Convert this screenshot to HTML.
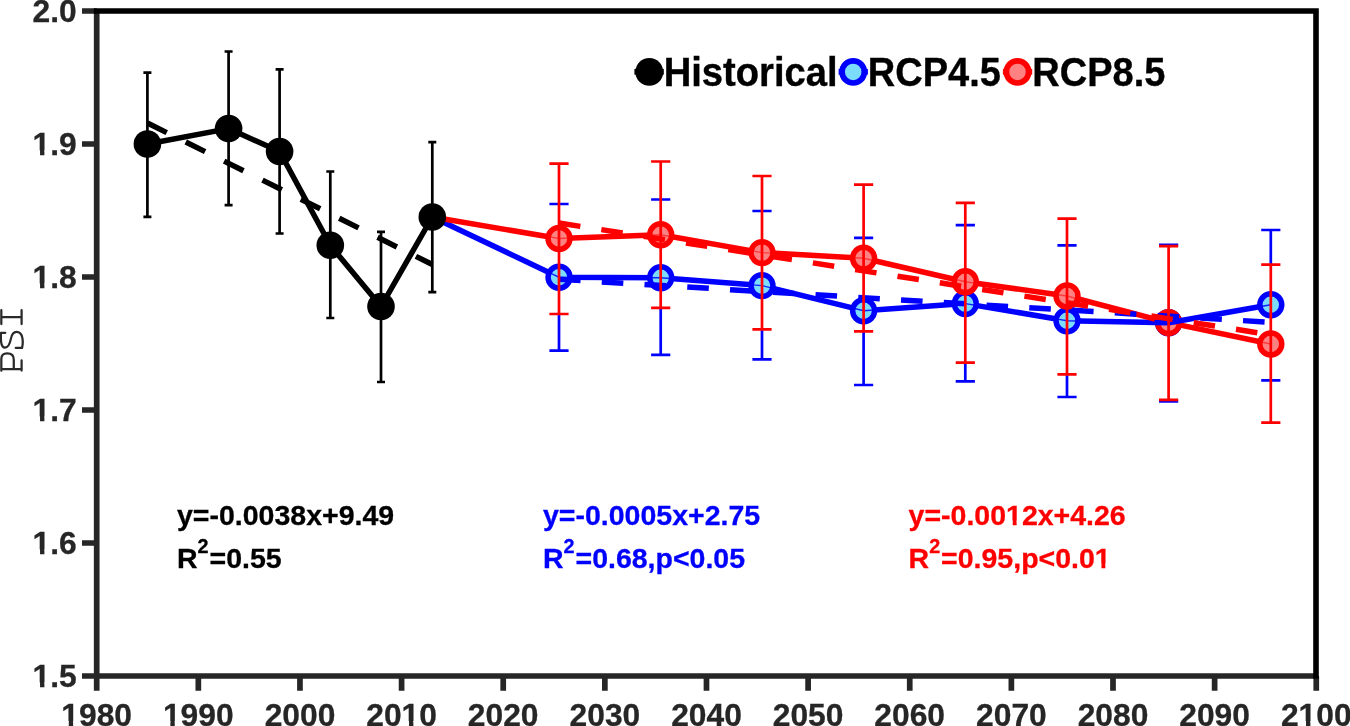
<!DOCTYPE html>
<html><head><meta charset="utf-8"><title>PSI</title>
<style>
html,body{margin:0;padding:0;background:#fff;}
body{width:1350px;height:726px;overflow:hidden;}
svg{display:block;will-change:transform;}
text{font-family:"Liberation Sans",sans-serif;font-weight:bold;}
.mono{font-family:"Liberation Mono",monospace;font-weight:normal;}
</style></head><body>
<svg width="1350" height="726" viewBox="0 0 1350 726">
<rect width="1350" height="726" fill="#fff"/>
<g id="hist">
<path d="M147.4 72.7V216.8M143.4 72.7H151.4M143.4 216.8H151.4" stroke="#000" stroke-width="2.7" fill="none"/>
<path d="M228.6 51.5V205.2M224.6 51.5H232.6M224.6 205.2H232.6" stroke="#000" stroke-width="2.7" fill="none"/>
<path d="M279.6 69.4V233.5M275.6 69.4H283.6M275.6 233.5H283.6" stroke="#000" stroke-width="2.7" fill="none"/>
<path d="M330.3 171.5V318.0M326.3 171.5H334.3M326.3 318.0H334.3" stroke="#000" stroke-width="2.7" fill="none"/>
<path d="M381.0 231.8V382.0M377.0 231.8H385.0M377.0 382.0H385.0" stroke="#000" stroke-width="2.7" fill="none"/>
<path d="M432.3 142.2V292.1M428.3 142.2H436.3M428.3 292.1H436.3" stroke="#000" stroke-width="2.7" fill="none"/>
<polyline points="147.4,144.0 228.6,128.6 279.6,151.5 330.3,245.3 381.0,306.5 432.3,217.0" fill="none" stroke="#000" stroke-width="5.5" stroke-linejoin="round"/>
</g>
<g id="blue">
<path d="M559.0 314.0V350.7M549.4 204.0H568.6M549.4 350.7H568.6" stroke="#0000ff" stroke-width="2.7" fill="none"/>
<path d="M660.7 307.8V354.9M651.1 199.5H670.3M651.1 354.9H670.3" stroke="#0000ff" stroke-width="2.7" fill="none"/>
<path d="M762.0 329.3V359.4M752.4 211.0H771.6M752.4 359.4H771.6" stroke="#0000ff" stroke-width="2.7" fill="none"/>
<path d="M863.6 331.3V385.0M854.0 237.9H873.2M854.0 385.0H873.2" stroke="#0000ff" stroke-width="2.7" fill="none"/>
<path d="M965.3 362.7V381.3M955.7 225.1H974.9M955.7 381.3H974.9" stroke="#0000ff" stroke-width="2.7" fill="none"/>
<path d="M1067.0 374.3V397.0M1057.4 245.4H1076.6M1057.4 397.0H1076.6" stroke="#0000ff" stroke-width="2.7" fill="none"/>
<path d="M1168.6 244.9V246.1M1168.6 399.8V401.5M1159.0 244.9H1178.2M1159.0 401.5H1178.2" stroke="#0000ff" stroke-width="2.7" fill="none"/>
<path d="M1270.8 230.0V264.7M1261.2 230.0H1280.4M1261.2 380.4H1280.4" stroke="#0000ff" stroke-width="2.7" fill="none"/>
<polyline points="432.3,217.0 559.0,277.2 660.7,277.7 762.0,285.6 863.6,310.7 965.3,303.6 1067.0,320.7 1168.6,322.7 1270.8,304.8" fill="none" stroke="#0000ff" stroke-width="5.5" stroke-linejoin="round"/>
<clipPath id="cb"><circle cx="559.0" cy="277.2" r="10.95"/><circle cx="660.7" cy="277.7" r="10.95"/><circle cx="762.0" cy="285.6" r="10.95"/><circle cx="863.6" cy="310.7" r="10.95"/><circle cx="965.3" cy="303.6" r="10.95"/><circle cx="1067.0" cy="320.7" r="10.95"/><circle cx="1168.6" cy="322.7" r="10.95"/><circle cx="1270.8" cy="304.8" r="10.95"/></clipPath>
<circle cx="559.0" cy="277.2" r="10.95" fill="#7cdcfd"/>
<circle cx="660.7" cy="277.7" r="10.95" fill="#7cdcfd"/>
<circle cx="762.0" cy="285.6" r="10.95" fill="#7cdcfd"/>
<circle cx="863.6" cy="310.7" r="10.95" fill="#7cdcfd"/>
<circle cx="965.3" cy="303.6" r="10.95" fill="#7cdcfd"/>
<circle cx="1067.0" cy="320.7" r="10.95" fill="#7cdcfd"/>
<circle cx="1168.6" cy="322.7" r="10.95" fill="#7cdcfd"/>
<circle cx="1270.8" cy="304.8" r="10.95" fill="#7cdcfd"/>
<polyline clip-path="url(#cb)" points="432.3,217.0 559.0,277.2 660.7,277.7 762.0,285.6 863.6,310.7 965.3,303.6 1067.0,320.7 1168.6,322.7 1270.8,304.8" fill="none" stroke="#0000ff" stroke-opacity="0.85" stroke-width="1.4"/>
<circle cx="559.0" cy="277.2" r="10.95" fill="none" stroke="#0000ff" stroke-width="5.5"/>
<circle cx="660.7" cy="277.7" r="10.95" fill="none" stroke="#0000ff" stroke-width="5.5"/>
<circle cx="762.0" cy="285.6" r="10.95" fill="none" stroke="#0000ff" stroke-width="5.5"/>
<circle cx="863.6" cy="310.7" r="10.95" fill="none" stroke="#0000ff" stroke-width="5.5"/>
<circle cx="965.3" cy="303.6" r="10.95" fill="none" stroke="#0000ff" stroke-width="5.5"/>
<circle cx="1067.0" cy="320.7" r="10.95" fill="none" stroke="#0000ff" stroke-width="5.5"/>
<circle cx="1168.6" cy="322.7" r="10.95" fill="none" stroke="#0000ff" stroke-width="5.5"/>
<circle cx="1270.8" cy="304.8" r="10.95" fill="none" stroke="#0000ff" stroke-width="5.5"/>
</g>
<g id="red">
<polyline points="432.3,217.0 559.0,238.5 660.7,234.7 762.0,252.6 863.6,258.2 965.3,281.7 1067.0,296.0 1168.6,322.6 1270.8,344.0" fill="none" stroke="#ff0000" stroke-width="5.5" stroke-linejoin="round"/>
<clipPath id="cr"><circle cx="559.0" cy="238.5" r="10.95"/><circle cx="660.7" cy="234.7" r="10.95"/><circle cx="762.0" cy="252.6" r="10.95"/><circle cx="863.6" cy="258.2" r="10.95"/><circle cx="965.3" cy="281.7" r="10.95"/><circle cx="1067.0" cy="296.0" r="10.95"/><circle cx="1168.6" cy="322.6" r="10.95"/><circle cx="1270.8" cy="344.0" r="10.95"/></clipPath>
<circle cx="559.0" cy="238.5" r="10.95" fill="#ff8282"/>
<circle cx="660.7" cy="234.7" r="10.95" fill="#ff8282"/>
<circle cx="762.0" cy="252.6" r="10.95" fill="#ff8282"/>
<circle cx="863.6" cy="258.2" r="10.95" fill="#ff8282"/>
<circle cx="965.3" cy="281.7" r="10.95" fill="#ff8282"/>
<circle cx="1067.0" cy="296.0" r="10.95" fill="#ff8282"/>
<circle cx="1168.6" cy="322.6" r="10.95" fill="#ff8282"/>
<circle cx="1270.8" cy="344.0" r="10.95" fill="#ff8282"/>
<polyline clip-path="url(#cr)" points="432.3,217.0 559.0,238.5 660.7,234.7 762.0,252.6 863.6,258.2 965.3,281.7 1067.0,296.0 1168.6,322.6 1270.8,344.0" fill="none" stroke="#ff0000" stroke-opacity="0.55" stroke-width="1.4"/>
<circle cx="559.0" cy="238.5" r="10.95" fill="none" stroke="#ff0000" stroke-width="5.5"/>
<circle cx="660.7" cy="234.7" r="10.95" fill="none" stroke="#ff0000" stroke-width="5.5"/>
<circle cx="762.0" cy="252.6" r="10.95" fill="none" stroke="#ff0000" stroke-width="5.5"/>
<circle cx="863.6" cy="258.2" r="10.95" fill="none" stroke="#ff0000" stroke-width="5.5"/>
<circle cx="965.3" cy="281.7" r="10.95" fill="none" stroke="#ff0000" stroke-width="5.5"/>
<circle cx="1067.0" cy="296.0" r="10.95" fill="none" stroke="#ff0000" stroke-width="5.5"/>
<circle cx="1168.6" cy="322.6" r="10.95" fill="none" stroke="#ff0000" stroke-width="5.5"/>
<circle cx="1270.8" cy="344.0" r="10.95" fill="none" stroke="#ff0000" stroke-width="5.5"/>
<clipPath id="c85"><circle cx="1168.6" cy="322.6" r="14.2"/></clipPath>
<polyline clip-path="url(#c85)" points="1067.0,320.7 1168.6,322.7 1270.8,304.8" fill="none" stroke="#0000ff" stroke-width="5.5" stroke-linejoin="round"/>
<line x1="559" y1="279.3" x2="1270.8" y2="322.3" stroke="#0000ff" stroke-width="5.5" stroke-dasharray="21.6 21.23"/>
<line x1="559" y1="223" x2="1270.8" y2="334.8" stroke="#ff0000" stroke-width="5.5" stroke-dasharray="21.6 21.23"/>
<path d="M559.0 163.6V314.0M549.4 163.6H568.6M549.4 314.0H568.6" stroke="#ff0000" stroke-width="2.7" fill="none"/>
<path d="M660.7 161.5V307.8M651.1 161.5H670.3M651.1 307.8H670.3" stroke="#ff0000" stroke-width="2.7" fill="none"/>
<path d="M762.0 176.0V329.3M752.4 176.0H771.6M752.4 329.3H771.6" stroke="#ff0000" stroke-width="2.7" fill="none"/>
<path d="M863.6 184.7V331.3M854.0 184.7H873.2M854.0 331.3H873.2" stroke="#ff0000" stroke-width="2.7" fill="none"/>
<path d="M965.3 202.8V362.7M955.7 202.8H974.9M955.7 362.7H974.9" stroke="#ff0000" stroke-width="2.7" fill="none"/>
<path d="M1067.0 218.6V374.3M1057.4 218.6H1076.6M1057.4 374.3H1076.6" stroke="#ff0000" stroke-width="2.7" fill="none"/>
<path d="M1168.6 246.1V399.8M1159.0 246.1H1178.2M1159.0 399.8H1178.2" stroke="#ff0000" stroke-width="2.7" fill="none"/>
<path d="M1270.8 264.7V422.6M1261.2 264.7H1280.4M1261.2 422.6H1280.4" stroke="#ff0000" stroke-width="2.7" fill="none"/>
</g>
<g id="histm">
<circle cx="147.4" cy="144.0" r="13.8" fill="#000"/>
<circle cx="228.6" cy="128.6" r="13.8" fill="#000"/>
<circle cx="279.6" cy="151.5" r="13.8" fill="#000"/>
<circle cx="330.3" cy="245.3" r="13.8" fill="#000"/>
<circle cx="381.0" cy="306.5" r="13.8" fill="#000"/>
<circle cx="432.3" cy="217.0" r="13.8" fill="#000"/>
<line x1="147.4" y1="123" x2="432.3" y2="264.5" stroke="#000" stroke-width="5.5" stroke-dasharray="21.6 21.23"/>
</g>
<g id="axes">
<path d="M96.7 11.0V690.7" stroke="#262626" stroke-width="5.7" fill="none"/>
<path d="M82 676.0H1316" stroke="#262626" stroke-width="5.7" fill="none"/>
<path d="M198.33 676.0V690.7M299.96 676.0V690.7M401.59 676.0V690.7M503.22 676.0V690.7M604.85 676.0V690.7M706.48 676.0V690.7M808.11 676.0V690.7M909.74 676.0V690.7M1011.37 676.0V690.7M1113.00 676.0V690.7M1214.63 676.0V690.7M1316.26 676.0V690.7M82 11.0H96.7M82 144.0H96.7M82 277.0H96.7M82 410.0H96.7M82 543.0H96.7" stroke="#262626" stroke-width="5.7" fill="none"/>
<path d="M93.8 11H1316V678.8" stroke="#000" stroke-width="5.6" fill="none" stroke-linejoin="miter" stroke-linecap="butt"/>
</g>
<g fill="#262626" font-size="31.8" stroke="#262626" stroke-width="0.3">
<text transform="matrix(1 0 0 1.008 0 -5.807)" x="96.7" y="725.9" text-anchor="middle">1980</text>
<text transform="matrix(1 0 0 1.008 0 -5.807)" x="198.3" y="725.9" text-anchor="middle">1990</text>
<text transform="matrix(1 0 0 1.008 0 -5.807)" x="300.0" y="725.9" text-anchor="middle">2000</text>
<text transform="matrix(1 0 0 1.008 0 -5.807)" x="401.6" y="725.9" text-anchor="middle">2010</text>
<text transform="matrix(1 0 0 1.008 0 -5.807)" x="503.2" y="725.9" text-anchor="middle">2020</text>
<text transform="matrix(1 0 0 1.008 0 -5.807)" x="604.9" y="725.9" text-anchor="middle">2030</text>
<text transform="matrix(1 0 0 1.008 0 -5.807)" x="706.5" y="725.9" text-anchor="middle">2040</text>
<text transform="matrix(1 0 0 1.008 0 -5.807)" x="808.1" y="725.9" text-anchor="middle">2050</text>
<text transform="matrix(1 0 0 1.008 0 -5.807)" x="909.7" y="725.9" text-anchor="middle">2060</text>
<text transform="matrix(1 0 0 1.008 0 -5.807)" x="1011.4" y="725.9" text-anchor="middle">2070</text>
<text transform="matrix(1 0 0 1.008 0 -5.807)" x="1113.0" y="725.9" text-anchor="middle">2080</text>
<text transform="matrix(1 0 0 1.008 0 -5.807)" x="1214.6" y="725.9" text-anchor="middle">2090</text>
<text transform="matrix(1 0 0 1.008 0 -5.807)" x="1316.3" y="725.9" text-anchor="middle">2100</text>
<text transform="matrix(1 0 0 1.008 0 -0.178)" x="76.8" y="22.3" text-anchor="end">2.0</text>
<text transform="matrix(1 0 0 1.008 0 -1.242)" x="76.8" y="155.3" text-anchor="end">1.9</text>
<text transform="matrix(1 0 0 1.008 0 -2.306)" x="76.8" y="288.3" text-anchor="end">1.8</text>
<text transform="matrix(1 0 0 1.008 0 -3.370)" x="76.8" y="421.3" text-anchor="end">1.7</text>
<text transform="matrix(1 0 0 1.008 0 -4.434)" x="76.8" y="554.3" text-anchor="end">1.6</text>
<text transform="matrix(1 0 0 1.008 0 -5.498)" x="76.8" y="687.3" text-anchor="end">1.5</text>
</g>
<path d="M1.32 317.08L21.60 317.08M1.32 310.14L1.32 324.02M21.60 310.14L21.60 324.02M15.76 347.93L22.04 347.93C23.36 342.42 23.36 331.96 16.53 331.96C12.34 331.96 11.46 335.81 10.80 339.12C9.92 343.53 8.82 347.60 4.96 347.60C1.32 347.60 0.88 342.42 0.88 338.02L0.88 332.84M0.88 332.84L5.29 332.84M1.32 369.20L21.60 369.20M21.60 360.39L21.60 370.52M1.32 370.74L1.32 358.95C1.32 355.10 3.86 353.33 7.16 353.33C11.02 353.33 13.77 355.10 13.77 359.50L13.77 369.20" fill="none" stroke="#2a2a2a" stroke-width="2.25" stroke-linecap="round" stroke-linejoin="round"/>
<g id="legend">
<line x1="634.4" y1="71.8" x2="663.8" y2="71.8" stroke="#000" stroke-width="5.8"/>
<circle cx="649.3" cy="71.9" r="13.9" fill="#000"/>
<line x1="838.6" y1="71.8" x2="867.9" y2="71.8" stroke="#0000ff" stroke-width="5.8"/>
<circle cx="853.2" cy="71.9" r="11.1" fill="#7cdcfd" stroke="#0000ff" stroke-width="5.7"/>
<line x1="1002.9" y1="71.8" x2="1032.2" y2="71.8" stroke="#ff0000" stroke-width="5.8"/>
<circle cx="1017.5" cy="71.9" r="11.1" fill="#ff8282" stroke="#ff0000" stroke-width="5.7"/>
<g font-size="38" fill="#000" stroke="#000" stroke-width="0.35">
<text transform="matrix(1 0 0 1.05 0 -4.300)" x="663.7" y="86" font-size="38.15">Historical</text>
<text transform="matrix(1 0 0 1.05 0 -4.300)" x="867.8" y="86">RCP4.5</text>
<text transform="matrix(1 0 0 1.05 0 -4.300)" x="1032.3" y="86">RCP8.5</text>
</g>
</g>
<g font-size="28.5" fill="#000" stroke="#000" stroke-width="0.3">
<text transform="matrix(1 0 0 1.0 0 0.000)" x="177" y="525.1">y=-0.0038x+9.49</text>
<text transform="matrix(1 0 0 1.0 0 0.000)" x="177" y="568.2">R<tspan font-size="19.8" dy="-14.8">2</tspan><tspan dy="14.8" dx="0.9">=0.55</tspan></text>
</g>
<g font-size="28.5" fill="#0000ff" stroke="#0000ff" stroke-width="0.3">
<text transform="matrix(1 0 0 1.0 0 0.000)" x="543" y="525.1">y=-0.0005x+2.75</text>
<text transform="matrix(1 0 0 1.0 0 0.000)" x="543" y="568.2">R<tspan font-size="19.8" dy="-14.8">2</tspan><tspan dy="14.8" dx="0.9">=0.68,p&lt;0.05</tspan></text>
</g>
<g font-size="28.5" fill="#ff0000" stroke="#ff0000" stroke-width="0.3">
<text transform="matrix(1 0 0 1.0 0 0.000)" x="908.6" y="525.1">y=-0.0012x+4.26</text>
<text transform="matrix(1 0 0 1.0 0 0.000)" x="908.6" y="568.2">R<tspan font-size="19.8" dy="-14.8">2</tspan><tspan dy="14.8" dx="0.9">=0.95,p&lt;0.01</tspan></text>
</g>
<g id="patch1" fill="#fff">
<rect x="62.15" y="721.03" width="6.62" height="6.07"/>
<rect x="73.13" y="721.03" width="6.21" height="6.07"/>
<rect x="163.75" y="721.03" width="6.62" height="6.07"/>
<rect x="174.73" y="721.03" width="6.21" height="6.07"/>
<rect x="402.40" y="721.03" width="6.62" height="6.07"/>
<rect x="413.38" y="721.03" width="6.21" height="6.07"/>
<rect x="1299.42" y="721.03" width="6.62" height="6.07"/>
<rect x="1310.40" y="721.03" width="6.21" height="6.07"/>
<rect x="33.42" y="150.43" width="6.62" height="6.07"/>
<rect x="44.40" y="150.43" width="6.21" height="6.07"/>
<rect x="33.42" y="283.43" width="6.62" height="6.07"/>
<rect x="44.40" y="283.43" width="6.21" height="6.07"/>
<rect x="33.42" y="416.43" width="6.62" height="6.07"/>
<rect x="44.40" y="416.43" width="6.21" height="6.07"/>
<rect x="33.42" y="549.43" width="6.62" height="6.07"/>
<rect x="44.40" y="549.43" width="6.21" height="6.07"/>
<rect x="33.42" y="682.43" width="6.62" height="6.07"/>
<rect x="44.40" y="682.43" width="6.21" height="6.07"/>
<rect x="1006.65" y="520.59" width="6.06" height="5.71"/>
<rect x="1016.62" y="520.59" width="5.69" height="5.71"/>
<rect x="1095.39" y="563.69" width="6.06" height="5.71"/>
<rect x="1105.36" y="563.69" width="5.69" height="5.71"/>
</g>
</svg>
</body></html>
